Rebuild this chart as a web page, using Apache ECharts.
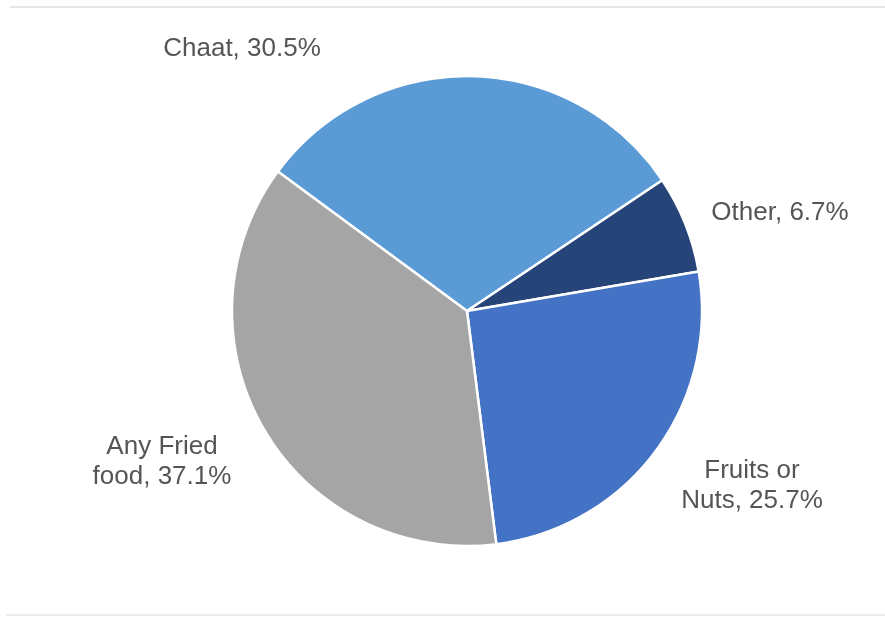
<!DOCTYPE html>
<html>
<head>
<meta charset="utf-8">
<script src="https://cdn.jsdelivr.net/npm/echarts@6/dist/echarts.min.js"></script>
<style>
  html, body { margin: 0; padding: 0; background: #ffffff; }
  #chart { width: 885px; height: 617px; }
</style>
</head>
<body>
<div id="chart"></div>
<script>
// Snack preferences (share of respondents, %)
const categories = ['Chaat', 'Other', 'Fruits or\nNuts', 'Any Fried\nfood'];
const shares = [30.5, 6.7, 25.7, 37.1];
const colors = ['#5b9bd5', '#264478', '#4472c4', '#a5a5a5'];

// Label anchor points (centre of each label block)
const labelSpots = [[242, 49], [780, 213], [752, 486], [162, 462]];

const chart = echarts.init(document.getElementById('chart'), null, { renderer: 'canvas' });

chart.setOption({
  backgroundColor: '#ffffff',
  animation: false,
  graphic: [
    { type: 'rect', shape: { x: 10, y: 6, width: 875, height: 2 }, style: { fill: '#e6e6e6' }, silent: true },
    { type: 'rect', shape: { x: 6, y: 614, width: 879, height: 2 }, style: { fill: '#ececec' }, silent: true }
  ],
  series: [{
    type: 'pie',
    center: [467, 311],
    radius: [0, 235],
    startAngle: 143.6,
    clockwise: true,
    avoidLabelOverlap: false,
    itemStyle: { borderColor: '#ffffff', borderWidth: 2.5 },
    label: {
      show: true,
      position: 'outside',
      color: '#555555',
      fontFamily: 'Liberation Sans, Arial, sans-serif',
      fontSize: 26,
      lineHeight: 30,
      align: 'center',
      formatter: p => p.name + ', ' + p.value + '%'
    },
    labelLine: { show: false },
    labelLayout: p => ({
      x: labelSpots[p.dataIndex][0],
      y: labelSpots[p.dataIndex][1],
      align: 'center',
      verticalAlign: 'middle'
    }),
    data: categories.map((c, i) => ({
      name: c,
      value: shares[i],
      itemStyle: { color: colors[i] }
    }))
  }]
});
</script>
</body>
</html>
